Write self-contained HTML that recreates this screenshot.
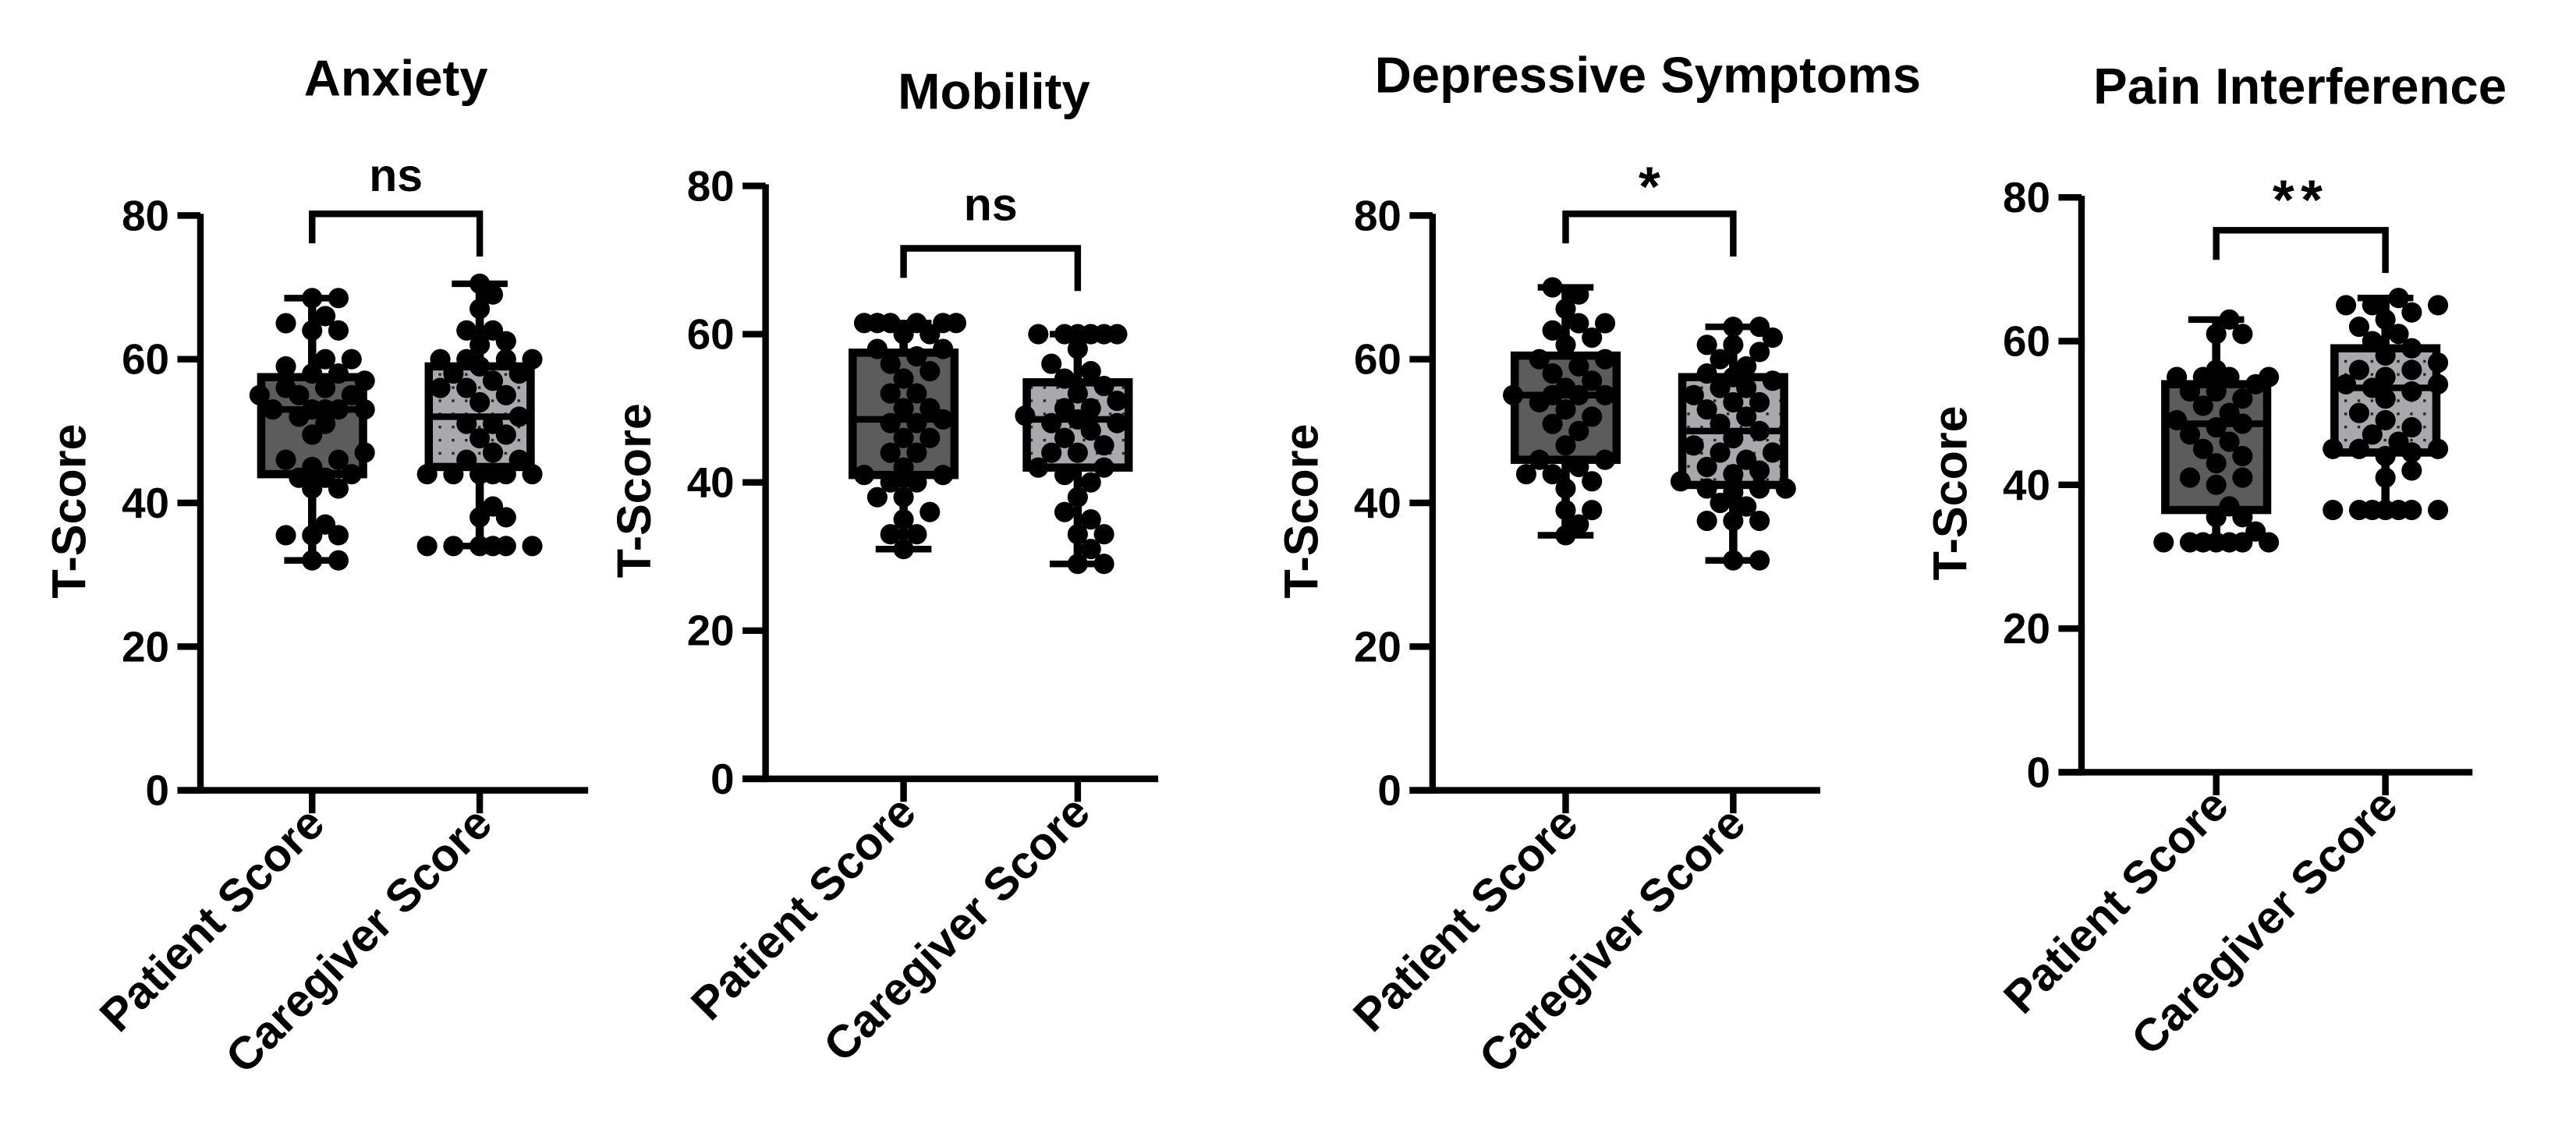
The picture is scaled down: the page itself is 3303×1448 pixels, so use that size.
<!DOCTYPE html>
<html><head><meta charset="utf-8"><style>
html,body{margin:0;padding:0;background:#fff;}
svg{display:block;}
text{font-family:"Liberation Sans",Arial,sans-serif;font-weight:bold;fill:#000;}
</style></head><body>
<svg id="fig" width="3303" height="1448" viewBox="0 0 1568 687" xmlns="http://www.w3.org/2000/svg">
<defs>
<pattern id="dots" width="8" height="8" patternUnits="userSpaceOnUse">
<rect width="8" height="8" fill="#a9a9ad"/><rect x="3" y="3" width="1.6" height="1.6" fill="#222"/>
</pattern>
</defs>
</svg>
<script>
const panelTitles = ["Anxiety","Mobility","Depressive Symptoms","Pain Interference"];
const categories = ["Patient Score","Caregiver Score"];
const yTicks = [0,20,40,60,80];
const sigLabels = ["ns","ns","*","**"];
const anxietyPatient = [32,32,35.5,35.5,35.5,37,42,42,43.5,43.5,44,45,46,46,47,49.5,51,52,53,53,53,53,53,55,55,55,56,56,57,58,58,59,60,60,64,64,65,66,68.5,68.5];
const anxietyCaregiver = [34,34,34,34,34,34,38,38,39.5,44,44,44,44,44,44,46,46,47,49,49.5,51,51,52,54,55,56,56,57,58,58,59,60,60,60,60,62,62.5,64,64,67,69,70.5];
const mobilityPatient = [31,33,33,35,36,38,38,40,40,41,41,42,44,44,46,46,48,48,48.5,50,50,52,52,54,55,56,57,58,58,60,60,61.5,61.5,61.5,61.5,61.5,61.5];
const mobilityCaregiver = [29,29,31,33,33,35,36,38,40,41,42,42,44,44,45,46,47,48,48,48.5,49,50,50,51,52,53,54,55,56,58,60,60,60,60,60,60];
const depressPatient = [35.5,37,39,39,42,43,44,44,45,46,46,48,50,51,52,53,54,55,55,55,55,56,57,58,59,60,60,62,63,64,65,65,67,69,70];
const depressCaregiver = [32,32,37.5,37.5,37.5,39.5,40,41.5,42,42,42,43,44,44.5,45,46,47,47,48,49,50,51,52,53,54,54,55,56,56,57,57.5,58,59,60,61,62,62,63,64.5,64.5];
const painPatient = [32,32,32,32,32,32,32,33.5,35.5,35.5,37,40,41,41,43,44,45,46,47,48,48.5,49,50,51,52,53,53,54,55,55,55,55,56,61,61,63];
const painCaregiver = [36.5,36.5,36.5,36.5,36.5,36.5,36.5,41,42,44,44.5,45,45,45,46,47,48,49,50,52,53,53.5,54,54,55,56,56,57,58,59,60,61,62,63,64,65,65,65,66];
// box stats [min,q1,median,q3,max]
const anxietyPatientBox = [32,44,53,57.5,68.5];
const anxietyCaregiverBox = [34,45,52,59,70.5];
const mobilityPatientBox = [31,41,48.5,57.5,61.5];
const mobilityCaregiverBox = [29,42,48.5,53.5,60];
const depressPatientBox = [35.5,46,55,60.5,70];
const depressCaregiverBox = [32,42.5,50,57.5,64.5];
const painPatientBox = [32,36.5,48.5,54,63];
const painCaregiverBox = [36.5,44.5,53.5,59,66];

const values = [[anxietyPatient,anxietyCaregiver],[mobilityPatient,mobilityCaregiver],[depressPatient,depressCaregiver],[painPatient,painCaregiver]];
const boxes = [[anxietyPatientBox,anxietyCaregiverBox],[mobilityPatientBox,mobilityCaregiverBox],[depressPatientBox,depressCaregiverBox],[painPatientBox,painCaregiverBox]];

const L = [
 {ax:122,top:131,bot:481,c:[190,292],xe:358,ty:47,tx:241,sy:130,st:107},
 {ax:466,top:113,bot:474,c:[550,656],xe:705,ty:55,tx:605,sy:151,st:125},
 {ax:872,top:131,bot:481,c:[953,1055],xe:1108,ty:45,tx:1003,sy:130,st:110},
 {ax:1267,top:120,bot:470,c:[1349,1452],xe:1505,ty:52,tx:1400,sy:140,st:118}
];
const svg = document.getElementById('fig');
const NS = 'http://www.w3.org/2000/svg';
function mk(tag, attrs, parent){const e=document.createElementNS(NS,tag);for(const k in attrs)e.setAttribute(k,attrs[k]);(parent||svg).appendChild(e);return e;}

L.forEach((p,i)=>{
  const g = mk('g',{});
  
  
  const y = v => p.bot - (v/80)*(p.bot-p.top);
  const t = mk('text',{x:p.tx,y:p.ty+11,'text-anchor':'middle','font-size':31},g);
  t.textContent = panelTitles[i];
  
  
  const ya = mk('line',{x1:p.ax,y1:p.top-1,x2:p.ax,y2:p.bot+2,stroke:'#000','stroke-width':4},g);
  
  
  const xa = mk('line',{x1:p.ax-14,y1:p.bot,x2:p.xe,y2:p.bot,stroke:'#000','stroke-width':4},g);
  
  
  yTicks.forEach(v=>{
    mk('line',{x1:p.ax-14,y1:y(v),x2:p.ax,y2:y(v),stroke:'#000','stroke-width':4},g);
    const tl = mk('text',{x:p.ax-19,y:y(v)+9,'text-anchor':'end','font-size':26},g);
    tl.textContent = v;
    
    
  });
  const yt = mk('text',{x:0,y:0,'text-anchor':'middle','font-size':29,transform:`translate(${p.ax-70},${(p.top+p.bot)/2+5}) rotate(-90)`},g);
  yt.textContent = 'T-Score';
  
  
  categories.forEach((c,j)=>{
    const cx = p.c[j];
    mk('line',{x1:cx,y1:p.bot,x2:cx,y2:p.bot+14,stroke:'#000','stroke-width':4},g);
    const xl = mk('text',{x:0,y:0,'text-anchor':'end','font-size':28,transform:`translate(${cx+9},${p.bot+22}) rotate(-45)`},g);
    xl.textContent = c;
    
    
    const b = boxes[i][j];
    const bw = 31, cw = 17;
    const wh = mk('line',{x1:cx,y1:y(b[0]),x2:cx,y2:y(b[4]),stroke:'#000','stroke-width':5},g);
    
    
    mk('line',{x1:cx-cw,y1:y(b[0]),x2:cx+cw,y2:y(b[0]),stroke:'#000','stroke-width':4},g);
    mk('line',{x1:cx-cw,y1:y(b[4]),x2:cx+cw,y2:y(b[4]),stroke:'#000','stroke-width':4},g);
    const bx = mk('rect',{x:cx-bw,y:y(b[3]),width:2*bw,height:y(b[1])-y(b[3]),fill:j==0?'#5c5c5c':'url(#dots)',stroke:'#000','stroke-width':5},g);
    
    
    const md = mk('line',{x1:cx-bw,y1:y(b[2]),x2:cx+bw,y2:y(b[2]),stroke:'#000','stroke-width':4},g);
    
    
    const r = 6.2, placed = [], maxOff = 32, step = 8;
    const cands = [0];
    for(let k=1;k*step<=maxOff;k++){cands.push(k*step,-k*step);}
    values[i][j].slice().sort((a,b)=>a-b).forEach(v=>{
      const py = y(v);
      let best = 0, bestD = -1;
      for(const cand of cands){
        const dmin = placed.reduce((m,q)=>Math.min(m,Math.hypot(q[0]-cand,q[1]-py)),1e9);
        if(dmin >= 1.6*r){best=cand;bestD=1e9;break;}
        if(dmin > bestD){bestD=dmin;best=cand;}
      }
      placed.push([best,py]);
      const d = mk('circle',{cx:cx+best,cy:py,r:r,fill:'#000'},g);
      
      
    });
  });
  const br = mk('path',{d:`M${p.c[0]},${p.sy+18} V${p.sy} H${p.c[1]} V${p.sy+26}`,fill:'none',stroke:'#000','stroke-width':4},g);
  
  
  const sl = mk('text',{x:(p.c[0]+p.c[1])/2,y:p.st+(sigLabels[i]=='ns'?9:15),'text-anchor':'middle','font-size':sigLabels[i]=='ns'?28:34,'font-weight':sigLabels[i]=='ns'?'normal':'bold','letter-spacing':sigLabels[i]=='**'?4:0},g);
  sl.textContent = sigLabels[i];
  
  
});
</script>
</body></html>
